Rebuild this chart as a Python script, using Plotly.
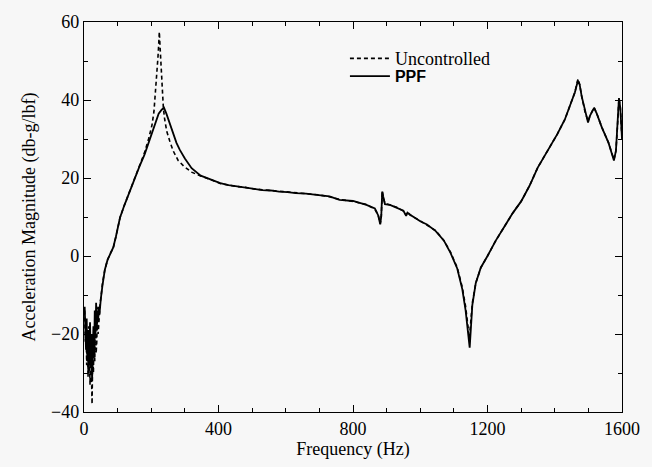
import plotly.graph_objects as go

# ---------------- data ----------------
freq_unc = [2, 4, 6, 8, 10, 12, 14, 16, 18, 20, 22, 24, 26, 28, 30, 32, 34, 36, 38, 40,
            42, 44, 46, 48, 50, 55, 62, 70, 80, 87, 95, 107, 120, 135, 150, 165, 180,
            192, 202, 208, 213, 217, 220, 222, 224, 226, 229, 232, 236, 240, 246, 255,
            265, 280, 297, 320, 347, 380, 405, 430, 455, 480, 505, 530, 555, 580, 605,
            630, 660, 696, 730, 760, 800, 840, 865, 875, 881, 884, 887, 890, 895, 910,
            930, 950, 958, 962, 970, 1000, 1020, 1046, 1070, 1090, 1110, 1125, 1135,
            1142, 1146, 1150, 1155, 1165, 1180, 1200, 1225, 1250, 1275, 1300, 1325,
            1349, 1375, 1408, 1430, 1447, 1460, 1469, 1474, 1480, 1490, 1499, 1505,
            1517, 1525, 1540, 1560, 1576, 1582, 1587, 1591, 1595, 1598, 1600]
db_unc = [-14, -22, -17, -28, -20, -31, -18, -26, -33, -21, -29, -38, -24, -30, -19, -27,
          -15, -25, -22, -13, -20, -16, -14, -12, -11, -7, -3.5, -1, 1, 2, 5, 9.8, 13,
          16.5, 20, 23, 26.5, 30, 33.5, 37, 42, 47, 51, 54, 57.5, 54, 48, 43, 38, 35,
          32, 29.5, 27, 24.5, 23, 21.5, 20.5, 19.5, 18.6, 18.2, 17.8, 17.6, 17.2, 17,
          16.8, 16.6, 16.3, 16.2, 15.9, 15.7, 15.2, 14.5, 14, 13.2, 12, 10.5, 8.3, 10,
          16.7, 15, 13.5, 13, 12.5, 11.5, 10.5, 11.3, 10.5, 9, 8, 6.5, 4, 1, -3, -8,
          -13, -19, -21, -17, -12, -7, -3, 0, 4, 7.5, 11, 14, 18, 22.6, 26.5, 31.3, 35,
          38.8, 42, 45.4, 44, 41, 37, 34.6, 36, 38.1, 36.5, 33, 29, 24.7, 27, 34, 40.5,
          38, 33, 30]

freq_ppf = [2, 4, 6, 8, 10, 12, 14, 16, 18, 20, 22, 24, 26, 28, 30, 32, 34, 36, 38, 40,
            42, 44, 46, 48, 50, 55, 62, 70, 80, 87, 95, 107, 120, 135, 150, 165, 180,
            192, 202, 212, 222, 231, 238, 245, 255, 265, 275, 285, 300, 320, 347, 380,
            405, 430, 455, 480, 505, 530, 555, 580, 605, 630, 660, 696, 730, 760, 800,
            840, 865, 875, 881, 884, 887, 890, 895, 910, 930, 950, 958, 962, 970, 1000,
            1020, 1046, 1070, 1090, 1110, 1125, 1135, 1142, 1147, 1151, 1155, 1165,
            1180, 1200, 1225, 1250, 1275, 1300, 1325, 1349, 1375, 1408, 1430, 1447,
            1460, 1469, 1474, 1480, 1490, 1499, 1505, 1517, 1525, 1540, 1560, 1576,
            1582, 1587, 1591, 1595, 1598, 1600]
db_ppf = [-13, -18, -24, -16, -27, -19, -30, -22, -17, -28, -20, -32, -23, -18, -26, -14,
          -21, -12, -19, -14, -17, -13, -15, -12, -11, -7.5, -3.5, -1, 1, 2.2, 5, 9.8,
          13, 16.5, 20, 23, 26, 29, 32, 34.5, 36.5, 37.5, 38, 36.5, 34, 31, 29, 27.2,
          25, 22.5, 20.6, 19.5, 18.7, 18.2, 17.9, 17.5, 17.3, 16.9, 16.8, 16.5, 16.4,
          16.1, 16, 15.6, 15.3, 14.4, 14.1, 13.1, 12.2, 10.4, 8.1, 10.2, 16.5, 15.2,
          13.3, 13.1, 12.4, 11.6, 10.3, 11.1, 10.6, 8.9, 8.1, 6.4, 4, 0.8, -3.2, -8.5,
          -14, -20, -23.5, -18, -12.5, -7, -3, 0, 4, 7.5, 11, 14, 18, 22.6, 26.5, 31.3,
          35, 38.8, 42, 45, 44, 41, 37, 34.2, 36, 38, 36.5, 33, 29, 24.5, 27, 34, 40.5,
          38, 33, 30]

x_ticks = [0, 400, 800, 1200, 1600]
y_ticks = [-40, -20, 0, 20, 40, 60]

# ---------------- figure ----------------
fig = go.Figure()
fig.add_trace(go.Scatter(x=freq_unc, y=db_unc, mode="lines", name="Uncontrolled",
                         legend="legend",
                         line=dict(color="black", width=1.6, dash="4px,3px")))
fig.add_trace(go.Scatter(x=freq_ppf, y=db_ppf, mode="lines",
                         name="<b>PPF</b>",
                         legend="legend2",
                         line=dict(color="black", width=1.8)))

bg = "#f7f7f7"
axis_common = dict(showgrid=False, zeroline=False, showline=True, linecolor="black",
                   linewidth=1.3, mirror="ticks", ticks="inside", ticklen=7,
                   tickwidth=1.3, tickcolor="black",
                   tickfont=dict(family="Liberation Serif", size=18, color="black"))

legend_common = dict(xanchor="left", yanchor="middle", bgcolor="rgba(0,0,0,0)",
                     borderwidth=0, itemwidth=40, tracegroupgap=0)

fig.update_layout(
    width=652, height=467,
    margin=dict(l=84, r=27, t=14, b=49),
    paper_bgcolor=bg, plot_bgcolor=bg,
    font=dict(family="Liberation Serif", color="black"),
    xaxis=dict(range=[0, 1600], tickvals=x_ticks,
               minor=dict(dtick=100, ticks="inside", ticklen=4, tickcolor="black",
                          tickwidth=1),
               title=dict(text="Frequency (Hz)", standoff=4,
                          font=dict(family="Liberation Serif", size=18)),
               **axis_common),
    yaxis=dict(range=[-40, 60], tickvals=y_ticks,
               minor=dict(dtick=10, ticks="inside", ticklen=4, tickcolor="black",
                          tickwidth=1),
               title=dict(text="Acceleration Magnitude (db-g/lbf)", standoff=10,
                          font=dict(family="Liberation Serif", size=18)),
               **axis_common),
    legend=dict(x=0.485, y=0.906,
                font=dict(family="Liberation Serif", size=18, color="black"),
                **legend_common),
    legend2=dict(x=0.485, y=0.861,
                 font=dict(family="Liberation Sans", size=16, color="black"),
                 **legend_common),
    showlegend=True,
)

fig.write_html("out.html")
